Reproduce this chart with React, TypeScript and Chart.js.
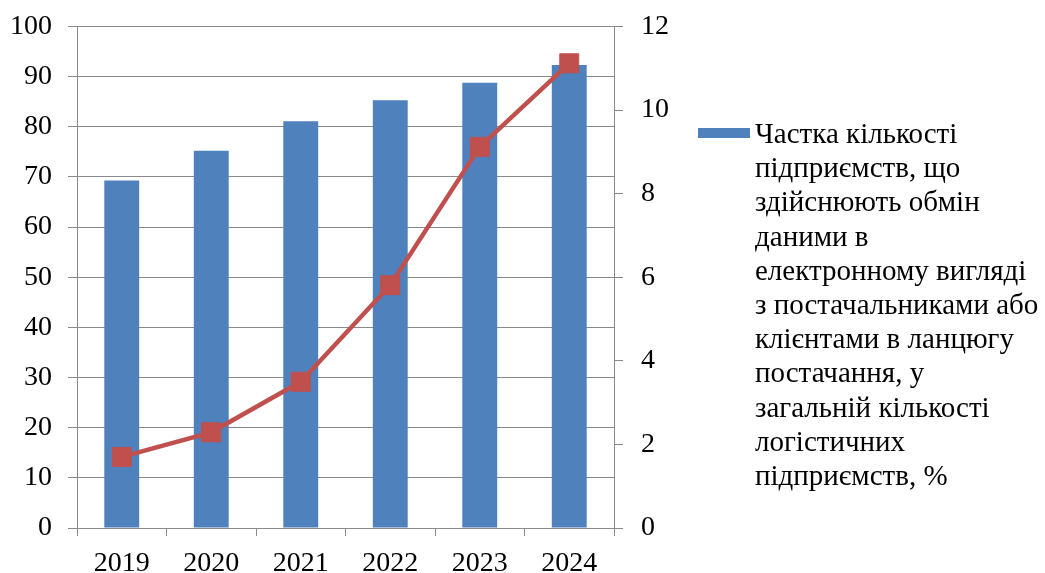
import React, { useEffect, useRef } from "react";
import { Chart, registerables } from "chart.js";

Chart.register(...registerables);

// Years on the category axis
const YEARS = ["2019", "2020", "2021", "2022", "2023", "2024"];

// Share of logistics enterprises exchanging data electronically (left axis, %)
const SHARE_VALUES = [69.3, 75.2, 81.1, 85.3, 88.8, 92.3];

// Second indicator, plotted as a line on the right axis
const LINE_VALUES = [1.7, 2.29, 3.5, 5.81, 9.12, 11.12];

// Axis ranges and steps
const LEFT_MAX = 100;
const LEFT_STEP = 10;
const RIGHT_MAX = 12;
const RIGHT_STEP = 2;

// Legend text, broken into its display lines
const LEGEND_LINES = [
  "Частка кількості",
  "підприємств, що",
  "здійснюють обмін",
  "даними в",
  "електронному вигляді",
  "з постачальниками або",
  "клієнтами в ланцюгу",
  "постачання, у",
  "загальній кількості",
  "логістичних",
  "підприємств, %",
];
const SHARE_LABEL = LEGEND_LINES.join(" ");

const BAR_COLOR = "#4F81BD";
const LINE_COLOR = "#C0504D";
const AXIS_COLOR = "#898989";
const FONT_FAMILY = "'Liberation Serif', 'Times New Roman', serif";

export default function App() {
  const canvasRef = useRef<HTMLCanvasElement | null>(null);

  useEffect(() => {
    document.body.style.margin = "0";
    const canvas = canvasRef.current;
    if (!canvas) return;

    const tickFont = { family: FONT_FAMILY, size: 28 };

    // Fixed-width vertical axes; label overhang is absorbed by the layout padding
    const fixVertical = (width: number) => (scale: any) => {
      scale.width = width;
      scale.paddingTop = 0;
      scale.paddingBottom = 0;
    };

    const chart = new Chart(canvas, {
      type: "bar",
      data: {
        labels: YEARS,
        datasets: [
          {
            type: "line",
            label: "line",
            data: LINE_VALUES,
            yAxisID: "y1",
            borderColor: LINE_COLOR,
            backgroundColor: LINE_COLOR,
            borderWidth: 4.5,
            pointStyle: "rect",
            pointRadius: 13.4,
            pointHoverRadius: 13.4,
            pointBackgroundColor: LINE_COLOR,
            pointBorderColor: LINE_COLOR,
            pointBorderWidth: 1,
            tension: 0,
            order: 0,
          },
          {
            type: "bar",
            label: SHARE_LABEL,
            data: SHARE_VALUES,
            yAxisID: "y",
            backgroundColor: BAR_COLOR,
            borderWidth: 0,
            barPercentage: 0.39,
            categoryPercentage: 1,
            order: 1,
          },
        ],
      },
      options: {
        animation: false,
        responsive: false,
        maintainAspectRatio: false,
        layout: { padding: { top: 26.5, right: 351, bottom: 0, left: 0 } },
        plugins: {
          legend: { display: false },
          tooltip: { enabled: false },
        },
        scales: {
          x: {
            offset: true,
            grid: {
              offset: true,
              drawOnChartArea: false,
              drawTicks: true,
              tickLength: 8,
              color: AXIS_COLOR,
              lineWidth: 1,
            },
            border: { display: true, color: AXIS_COLOR, width: 1 },
            ticks: { font: tickFont, color: "#000", padding: 11, maxRotation: 0 },
            afterFit: (scale: any) => {
              scale.height = 45;
              scale.paddingLeft = 0;
              scale.paddingRight = 0;
            },
          },
          y: {
            position: "left",
            min: 0,
            max: LEFT_MAX,
            ticks: { stepSize: LEFT_STEP, font: tickFont, color: "#000", padding: 16 },
            grid: {
              drawOnChartArea: true,
              drawTicks: true,
              tickLength: 9,
              color: AXIS_COLOR,
              lineWidth: 1,
            },
            border: { display: true, color: AXIS_COLOR, width: 1 },
            afterFit: fixVertical(77),
          },
          y1: {
            position: "right",
            min: 0,
            max: RIGHT_MAX,
            ticks: { stepSize: RIGHT_STEP, font: tickFont, color: "#000", padding: 18 },
            grid: {
              drawOnChartArea: false,
              drawTicks: true,
              tickLength: 9,
              color: AXIS_COLOR,
              lineWidth: 1,
            },
            border: { display: true, color: AXIS_COLOR, width: 1 },
            afterFit: fixVertical(80),
          },
        },
      },
    });

    return () => chart.destroy();
  }, []);

  return (
    <div style={{ position: "relative", width: 1045, height: 573, background: "#fff" }}>
      <canvas ref={canvasRef} width={1045} height={573} style={{ display: "block" }} />
      <div
        style={{
          position: "absolute",
          left: 698,
          top: 116,
          display: "flex",
          alignItems: "flex-start",
          fontFamily: FONT_FAMILY,
          fontSize: 29,
          lineHeight: "34.2px",
          color: "#000",
        }}
      >
        <div
          style={{
            width: 52,
            height: 10,
            background: BAR_COLOR,
            marginTop: 12,
            marginRight: 5,
            flex: "0 0 auto",
          }}
        />
        <div style={{ whiteSpace: "nowrap" }}>
          {LEGEND_LINES.map((line, i) => (
            <div key={i}>{line}</div>
          ))}
        </div>
      </div>
    </div>
  );
}
